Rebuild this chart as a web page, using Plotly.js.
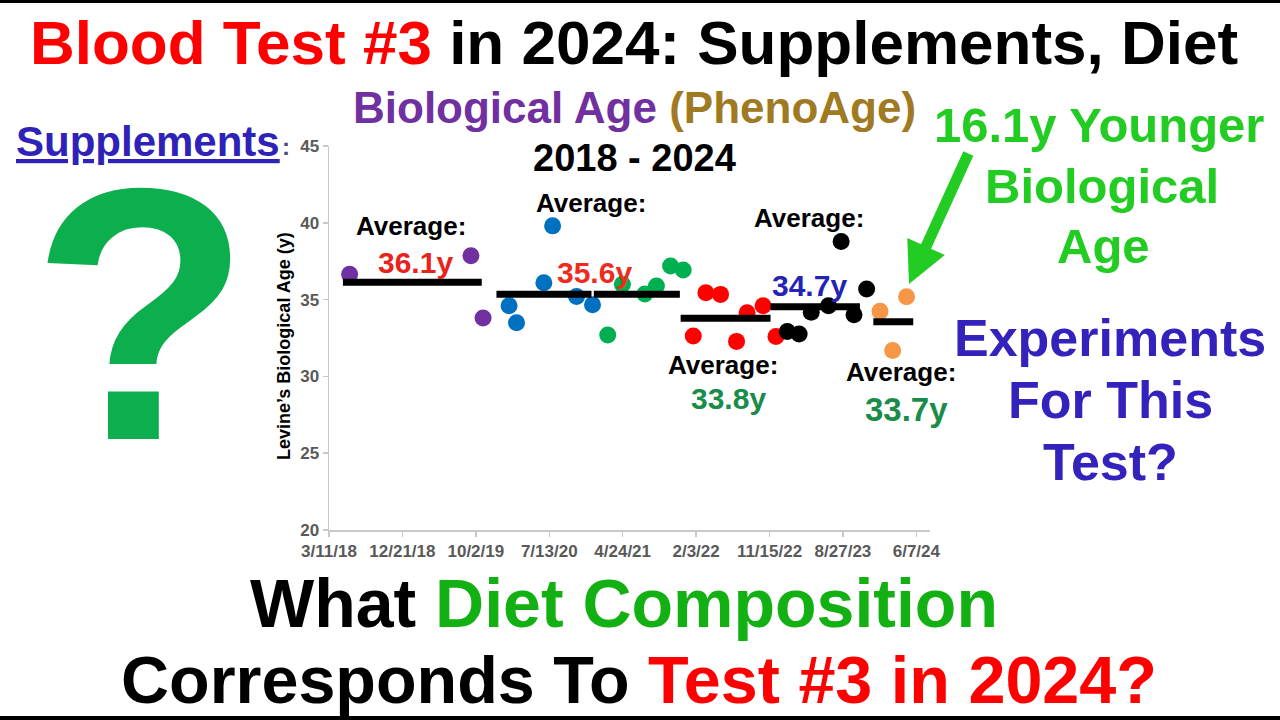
<!DOCTYPE html>
<html>
<head>
<meta charset="utf-8">
<script src="https://cdn.plot.ly/plotly-3.0.1.min.js"></script>
<style>html,body{margin:0;padding:0;background:#fff;}#chart{width:1280px;height:720px;}</style>
</head>
<body>
<div id="chart"></div>
<script>
// ---- data ----
const purpleDates = ['2018-05-30','2019-09-13','2019-10-30'];
const purpleAges  = [36.65, 37.86, 33.8];
const blueDates   = ['2020-02-08','2020-03-08','2020-06-22','2020-07-26','2020-10-27','2020-12-28'];
const blueAges    = [34.6, 33.5, 36.1, 39.8, 35.2, 34.67];
const greenDates  = ['2021-02-25','2021-04-23','2021-07-19','2021-09-02','2021-10-27','2021-12-15'];
const greenAges   = [32.7, 36.0, 35.36, 35.88, 37.19, 36.93];
const redDates    = ['2022-01-23','2022-03-13','2022-05-09','2022-07-10','2022-08-20','2022-10-21','2022-12-10'];
const redAges     = [32.63, 35.45, 35.34, 32.28, 34.15, 34.6, 32.6];
const blackDates  = ['2023-01-23','2023-03-10','2023-04-26','2023-07-02','2023-08-20','2023-10-09','2023-11-27'];
const blackAges   = [32.93, 32.76, 34.17, 34.6, 38.79, 34.02, 35.69];
const orangeDates = ['2024-01-18','2024-03-07','2024-04-30'];
const orangeAges  = [34.24, 31.68, 35.19];

const avgStart  = ['2018-05-04','2019-12-21','2021-01-02','2021-12-05','2022-11-19','2023-12-23'];
const avgEnd    = ['2019-10-25','2020-12-24','2021-12-02','2022-11-19','2023-11-01','2024-05-26'];
const avgValues = [36.13, 35.35, 35.35, 33.78, 34.54, 33.56];
const avgLabels = ['36.1y','35.6y','34.7y','33.8y','33.7y'];

const xTickVals = ['2018-03-11','2018-12-21','2019-10-02','2020-07-13','2021-04-24','2022-02-03','2022-11-15','2023-08-27','2024-06-07'];
const xTickText = ['3/11/18','12/21/18','10/2/19','7/13/20','4/24/21','2/3/22','11/15/22','8/27/23','6/7/24'];

// ---- layout helpers (pixel -> paper) ----
const L = 329, R = 930, T = 146, B = 530;
const px = x => (x - L) / (R - L);
const py = y => (B - y) / (B - T);
const FONT = 'Liberation Sans, Arial, sans-serif';

function txt(text, x, y, size, color, extra) {
  return Object.assign({
    text: text, x: px(x), y: py(y), xref: 'paper', yref: 'paper',
    xanchor: 'center', yanchor: 'middle', showarrow: false,
    font: {family: FONT, size: size, color: color, weight: 700}
  }, extra || {});
}

const groups = [
  [purpleDates, purpleAges, '#7030A0'],
  [blueDates, blueAges, '#0070C0'],
  [greenDates, greenAges, '#00B050'],
  [redDates, redAges, '#FF0000'],
  [blackDates, blackAges, '#000000'],
  [orangeDates, orangeAges, '#F79646']
];

const traces = groups.map(g => ({
  type: 'scatter', mode: 'markers', x: g[0], y: g[1],
  marker: {color: g[2], size: 17}, hoverinfo: 'x+y', showlegend: false
}));
avgValues.forEach((v, i) => {
  traces.push({type: 'scatter', mode: 'lines', x: [avgStart[i], avgEnd[i]], y: [v, v],
    line: {color: '#000', width: 7}, showlegend: false, hoverinfo: 'y'});
});

const annotations = [
  txt('<span style="color:#FF0000">Blood Test #3</span> in 2024: Supplements, Diet', 634, 42, 62, '#000'),
  txt('<span style="color:#7030A0">Biological Age</span> <span style="color:#9F7A22">(PhenoAge)</span>', 634, 107, 44, '#7030A0'),
  txt('2018 - 2024', 634, 158, 38, '#000'),
  txt('Supplements', 148, 142, 42, '#2E22B8', {font: {family: FONT, size: 42, color: '#2E22B8', weight: 700, lineposition: 'under'}}),
  txt(':', 286, 146, 24, '#4a4a7a'),
  txt('?', 141, 314, 360, '#0DAE4E', {height: 290, valign: 'middle'}),
  txt('16.1y Younger', 1099, 125, 49, '#22CC22'),
  txt('Biological', 1102, 186, 49, '#22CC22'),
  txt('Age', 1103, 246, 49, '#22CC22'),
  txt('Experiments', 1110, 338, 52, '#3322BB'),
  txt('For This', 1110, 400, 52, '#3322BB'),
  txt('Test?', 1110, 462, 52, '#3322BB'),
  txt('What <span style="color:#12B012">Diet Composition</span>', 624, 603, 68, '#000'),
  txt('Corresponds To <span style="color:#FF0000">Test #3 in 2024?</span>', 639, 680, 66.5, '#000'),
  txt('Levine\u2019s Biological Age (y)', 284, 346, 18, '#000', {textangle: -90}),
  // average labels
  txt('Average:', 411, 226, 26, '#000'),
  txt(avgLabels[0], 415, 262, 30, '#E8231A'),
  txt('Average:', 591, 203, 26, '#000'),
  txt(avgLabels[1], 594, 272, 30, '#EE2B1D'),
  txt('Average:', 809, 218, 26, '#000'),
  txt(avgLabels[2], 809, 285, 30, '#2424B4'),
  txt('Average:', 723, 365, 26, '#000'),
  txt(avgLabels[3], 728, 398, 30, '#1A8C4A'),
  txt('Average:', 901, 372, 26, '#000'),
  txt(avgLabels[4], 906, 409, 33, '#1A8C4A'),
  // arrow
  {text: '', x: px(909), y: py(284), xref: 'paper', yref: 'paper', showarrow: true,
   ax: 60, ay: -132, arrowcolor: '#22CC22', arrowwidth: 11, arrowhead: 2, arrowsize: 0.75, standoff: 0}
];

const shapes = [
  {type: 'rect', xref: 'paper', yref: 'paper', x0: px(0), x1: px(1280), y0: py(0), y1: py(3), fillcolor: '#000', line: {width: 0}},
  {type: 'rect', xref: 'paper', yref: 'paper', x0: px(0), x1: px(1280), y0: py(716), y1: py(720), fillcolor: '#000', line: {width: 0}}
];

const layout = {
  width: 1280, height: 720,
  margin: {l: L, r: 1280 - R, t: T, b: 720 - B, pad: 0},
  paper_bgcolor: '#fff', plot_bgcolor: '#fff',
  showlegend: false,
  xaxis: {
    type: 'date', range: ['2018-03-11', '2024-07-30'],
    tickmode: 'array', tickvals: xTickVals, ticktext: xTickText,
    showgrid: false, zeroline: false, showline: true, linecolor: '#C8C8C8', linewidth: 1.5,
    ticks: 'outside', ticklen: 5, tickcolor: '#C8C8C8', tickwidth: 1.5,
    tickfont: {family: FONT, size: 17, color: '#595959', weight: 700}
  },
  yaxis: {
    range: [20, 45], tickvals: [20, 25, 30, 35, 40, 45],
    showgrid: false, zeroline: false, showline: true, linecolor: '#C8C8C8', linewidth: 1.5,
    ticks: 'outside', ticklen: 5, tickcolor: '#C8C8C8', tickwidth: 1.5,
    tickfont: {family: FONT, size: 17, color: '#595959', weight: 700}
  },
  annotations: annotations,
  shapes: shapes
};

Plotly.newPlot('chart', traces, layout, {displayModeBar: false, staticPlot: true});
</script>
</body>
</html>
